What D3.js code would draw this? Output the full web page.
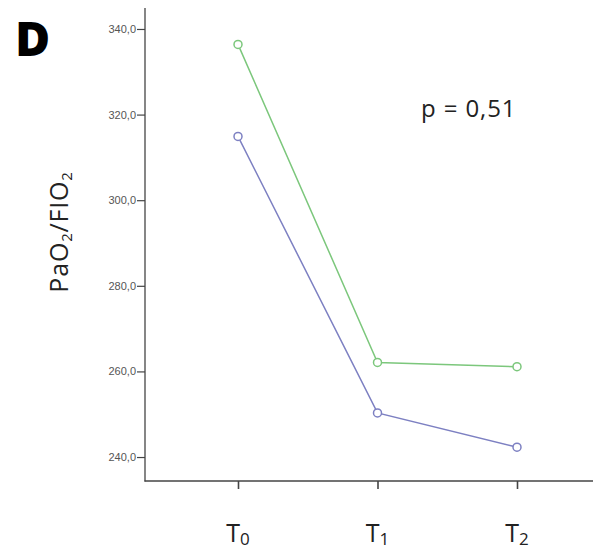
<!DOCTYPE html>
<html><head><meta charset="utf-8">
<script src="https://cdn.jsdelivr.net/npm/d3@7"></script>
<style>body{margin:0;background:#fff}svg{display:block}</style>
</head><body>
<svg id="c" width="594" height="549"></svg>
<script>
const categories = ["0","1","2"];
const groupA = [336.4, 262.1, 261.1]; // green
const groupB = [314.9, 250.3, 242.3]; // blue
const yTicks = [240, 260, 280, 300, 320, 340];
const pText = "p = 0,51";

const svg = d3.select("#c");
const x = d3.scalePoint().domain(categories).range([238, 517]);
const y = d3.scaleLinear().domain([234.4, 344.9]).range([481, 8]);
const fmt = v => d3.format(".1f")(v).replace(".", ",");

// y axis
const ya = svg.append("g").attr("transform","translate(145,0)")
  .call(d3.axisLeft(y).tickValues(yTicks).tickFormat(fmt).tickSize(8).tickPadding(1));
ya.select(".domain").remove();
ya.selectAll(".tick line").attr("stroke","#444").attr("stroke-width",1.2);
ya.selectAll(".tick text").attr("font-family","Liberation Sans, Arial").attr("font-size",11).attr("fill","#555");
svg.append("line").attr("x1",145).attr("x2",145).attr("y1",8).attr("y2",481.5).attr("stroke","#444").attr("stroke-width",1.3);

// x axis
const xa = svg.append("g").attr("transform","translate(0,481)")
  .call(d3.axisBottom(x).tickSize(8).tickFormat(""));
xa.select(".domain").remove();
xa.selectAll(".tick line").attr("stroke","#444").attr("stroke-width",1.6);
svg.append("line").attr("x1",144.5).attr("x2",593).attr("y1",481).attr("y2",481).attr("stroke","#444").attr("stroke-width",1.3);

// x labels
categories.forEach(c => {
  const t = svg.append("text").attr("x", x(c)).attr("y", 542).attr("text-anchor","middle")
    .attr("font-family","Open Sans, sans-serif").attr("font-size",25).attr("fill","#222");
  t.append("tspan").text("T");
  t.append("tspan").attr("font-size",17).attr("dy",3).text(c);
});

// y label
const yl = svg.append("text").attr("transform","translate(68,232) rotate(-90)").attr("text-anchor","middle")
  .attr("font-family","Open Sans, sans-serif").attr("font-size",25).attr("letter-spacing",0.8).attr("fill","#222");
yl.append("tspan").text("PaO");
yl.append("tspan").attr("font-size",15).attr("dy",4).text("2");
yl.append("tspan").attr("dy",-4).text("/FIO");
yl.append("tspan").attr("font-size",15).attr("dy",4).text("2");

// lines
const line = d3.line().x((d,i)=>x(categories[i])).y(d=>y(d));
const series = [{v:groupA,c:"#7cc77c"},{v:groupB,c:"#7d80c2"}];
series.forEach(s => {
  svg.append("path").datum(s.v).attr("d",line).attr("fill","none").attr("stroke",s.c).attr("stroke-width",1.5);
  svg.selectAll(null).data(s.v).enter().append("circle")
    .attr("cx",(d,i)=>x(categories[i])).attr("cy",d=>y(d)).attr("r",4)
    .attr("fill","#fff").attr("stroke",s.c).attr("stroke-width",1.5);
});

// p text
svg.append("text").attr("x",421).attr("y",117).attr("font-family","Open Sans, sans-serif")
  .attr("font-size",24).attr("letter-spacing",0.9).attr("fill","#222").text(pText);

// panel letter
svg.append("text").attr("x",15).attr("y",56).attr("font-family","Open Sans, sans-serif")
  .attr("font-weight",800).attr("font-size",48).attr("fill","#000").text("D");
</script>
</body></html>
